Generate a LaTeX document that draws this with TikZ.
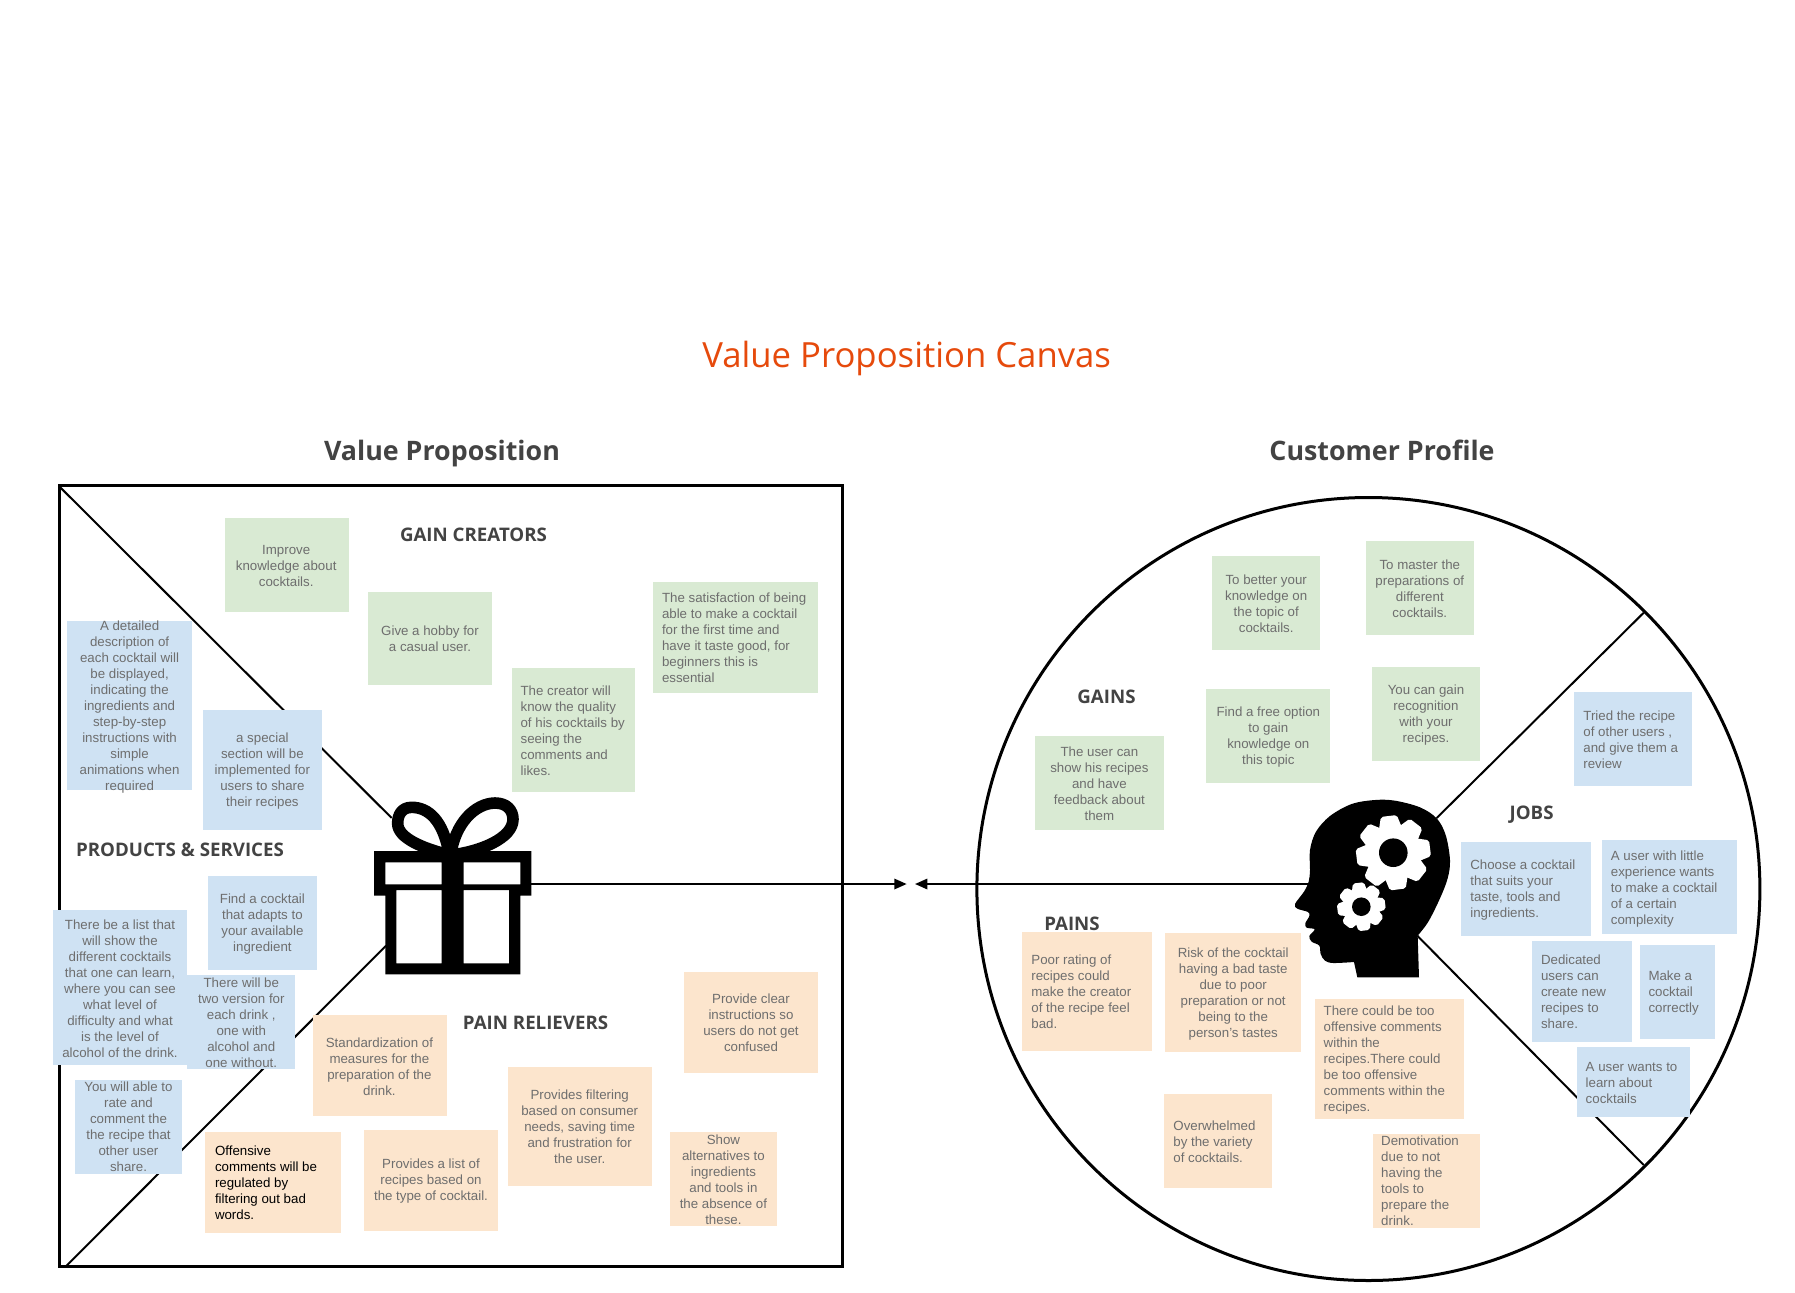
\documentclass[tikz,border=0pt]{standalone}
\usepackage{fontspec}
\setmainfont{Liberation Sans}
\newfontfamily\opensans{Open Sans}
\usetikzlibrary{arrows.meta}
\definecolor{gnote}{HTML}{D9EAD3}
\definecolor{bnote}{HTML}{CFE2F3}
\definecolor{onote}{HTML}{FCE5CD}
\definecolor{notetext}{HTML}{6E6E6E}
\definecolor{headtext}{HTML}{434343}
\definecolor{titleorange}{HTML}{E64A0C}
\tikzset{
  notebox/.style={inner sep=0pt,outer sep=0pt},
  ntext/.style={inner sep=0pt,outer sep=0pt,text=notetext,font=\fontsize{6.65}{8}\selectfont},
  cnote/.style={ntext,align=center,anchor=center},
  lnote/.style={ntext,align=left,anchor=west},
  sect/.style={inner sep=0pt,text=headtext,font=\opensans\bfseries\fontsize{9.35}{11}\selectfont},
  panel/.style={inner sep=0pt,anchor=base,text=headtext,font=\opensans\bfseries\fontsize{13.4}{15}\selectfont},
  divider/.style={line width=1pt,black},
  outline/.style={line width=1.5pt,black},
  link/.style={line width=1pt,black,-{Triangle[length=6.2pt,width=5.2pt]}}
}
% name, x1,y1,x2,y2, colour
\newcommand{\stickynote}[6]{%
  \path[fill=#6] (#2,#3) rectangle (#4,#5);
  \node[notebox,minimum width=0pt] (#1) at ({(#2+#4)/2},{(#3+#5)/2}) {};
}
\newcommand{\cardc}[9]{\stickynote{#1}{#2}{#3}{#4}{#5}{#6}\node[cnote] (#1t) at (#7,#8) {#9};}
\newcommand{\cardl}[9]{\stickynote{#1}{#2}{#3}{#4}{#5}{#6}\node[lnote] (#1t) at (#7,#8) {#9};}
\newcommand{\gearshape}[6]{% cx cy outer root hole toothhalf
  \begin{scope}[shift={(#1,#2)}]
    \fill[white] (0,0) circle (#4);
    \foreach \a in {7,52,...,322}
      \fill[white,rotate=\a,rounded corners=1pt] (-#6*1.2,-#4+6) -- (-#6*.8,-#3) -- (#6*.8,-#3) -- (#6*1.2,-#4+6) -- cycle;
    \fill[black] (0,0) circle (#5);
  \end{scope}
}
\begin{document}
\begin{tikzpicture}[x=0.5pt,y=-0.5pt]
\useasboundingbox (0,0) rectangle (1795,1292);
\fill[white] (0,0) rectangle (1795,1292);

% anchors
\coordinate (boxTL) at (60.6,487.7);
\coordinate (boxBL) at (66.2,1266);
\coordinate (giftNW) at (391.7,818);
\coordinate (giftSW) at (386,945.7);
\coordinate (giftE) at (531,884);
\coordinate (tipL) at (906.7,884);
\coordinate (tipR) at (915,884);
\coordinate (headW) at (1308,884);
\coordinate (headNE) at (1436.7,818);
\coordinate (headSE) at (1417.3,935.7);
\coordinate (rimNE) at (1643.7,612.7);
\coordinate (rimSE) at (1643.7,1165);

% frames
\draw[outline] (59,485.7) rectangle (842,1266.7);
\draw[outline] (1368.4,889) circle (391.5);
\draw[divider] (boxTL) -- (giftNW);
\draw[divider] (boxBL) -- (giftSW);
\draw[divider] (headNE) -- (rimNE);
\draw[divider] (headSE) -- (rimSE);
\draw[link] (giftE) -- (tipL);
\draw[link] (headW) -- (tipR);

% gift
\begin{scope}[shift={(360,780)},scale=1/3]
  \draw[line width=5.8pt,black,line join=round]
    (268,225) .. controls (250,120) and (205,82) .. (155,82)
    .. controls (125,82) and (113,105) .. (113,130)
    .. controls (113,175) and (190,205) .. (268,225);
  \draw[line width=5.8pt,black,line join=round]
    (272,225) .. controls (285,130) and (345,70) .. (405,69)
    .. controls (440,69) and (459,90) .. (459,118)
    .. controls (459,175) and (360,215) .. (272,225);
  \fill[black,even odd rule]
    (42,213) -- (514,213) -- (514,347) -- (481,347) -- (481,583) -- (76,583) -- (76,347) -- (42,347) -- cycle
    (76,247) rectangle (245,313)
    (311,247) rectangle (481,313)
    (109,330) rectangle (245,550)
    (311,330) rectangle (447,550);
\end{scope}

% head
\begin{scope}[shift={(1280,780)},scale=1/3]
  \fill[black] (417,592) -- plot[smooth,tension=.55] coordinates {
    (413,467) (445,425) (480,355) (503,295) (510,240) (497,165) (470,115)
    (420,82) (345,62) (285,60) (215,72) (150,108) (108,155) (90,210) (90,270)
    (86,305) (72,335) (45,372) (52,386) (84,396) (88,408) (76,430) (80,443)
    (104,448) (88,468) (95,485) (118,497) (122,522) (135,542) (160,549) (222,546)
  } -- (232,592) -- cycle;
\end{scope}
\gearshape{1393.3}{852.7}{37}{28.5}{14.3}{10}
\gearshape{1361.3}{906.7}{24}{18}{9.3}{7}

% headings
\node[inner sep=0pt,anchor=base,text=titleorange,font=\opensans\fontsize{17.35}{20}\selectfont] (title) at (906.7,367.7) {Value Proposition Canvas};
\node[panel] (vp) at (442,460.7) {Value Proposition};
\node[panel] (cp) at (1382,460.7) {Customer Profile};

% Gain creators
\cardc{improve}{224.5}{518}{348.5}{611.7}{gnote}{286.2}{566}{Improve\\knowledge about\\cocktails.}
\cardc{hobby}{368}{591.7}{492}{685.3}{gnote}{430}{639}{Give a hobby for\\a casual user.}
\cardl{satisf}{653}{582.3}{818}{693}{gnote}{662}{637.8}{The satisfaction of being\\able to make a cocktail\\for the first time and\\have it taste good, for\\beginners this is\\essential}
\cardl{creator}{512}{668.3}{635}{791.7}{gnote}{520.6}{730.7}{The creator will\\know the quality\\of his cocktails by\\seeing the\\comments and\\likes.}

% Products
\cardc{detailed}{67}{621}{192}{790}{bnote}{129.6}{707.3}{A detailed\\description of\\each cocktail will\\be displayed,\\indicating the\\ingredients and\\step-by-step\\instructions with\\simple\\animations when\\required}
\cardc{special}{203}{710.3}{321.6}{829.7}{bnote}{262.4}{771.2}{a special\\section will be\\implemented for\\users to share\\their recipes}
\cardc{adapt}{208}{876}{316.5}{970}{bnote}{262.4}{924.3}{Find a cocktail\\that adapts to\\your available\\ingredient}
\cardc{thelist}{52.8}{910.3}{187.4}{1065.3}{bnote}{120}{988.3}{There be a list that\\will show the\\different cocktails\\that one can learn,\\where you can see\\what level of\\difficulty and what\\is the level of\\alcohol of the drink.}
\cardc{twover}{187.4}{975}{295}{1069.3}{bnote}{241.3}{1022.7}{There will be\\two version for\\each drink ,\\one with\\alcohol and\\one without.}
\cardc{rate}{74.6}{1079.7}{182.4}{1173.7}{bnote}{128.5}{1127}{You will able to\\rate and\\comment the\\the recipe that\\other user\\share.}

% Pain relievers
\cardc{standard}{312.6}{1015}{446.7}{1116}{onote}{379.4}{1066.3}{Standardization of\\measures for the\\preparation of the\\drink.}
\cardc{clear}{683.5}{972}{818}{1072.7}{onote}{751}{1022.7}{Provide clear\\instructions so\\users do not get\\confused}
\cardc{filter}{508}{1067}{651.5}{1186}{onote}{579.7}{1127}{Provides filtering\\based on consumer\\needs, saving time\\and frustration for\\the user.}
\cardl{offens}{205.4}{1132}{340.6}{1232.7}{onote}{215}{1183}{\textcolor{black}{Offensive}\\\textcolor{black}{comments will be}\\\textcolor{black}{regulated by}\\\textcolor{black}{filtering out bad}\\\textcolor{black}{words.}}
\cardc{listtype}{364}{1130}{498.3}{1230.7}{onote}{431}{1181.5}{Provides a list of\\recipes based on\\the type of cocktail.}
\cardc{alter}{669.5}{1132}{777.3}{1226}{onote}{723.4}{1179.3}{Show\\alternatives to\\ingredients\\and tools in\\the absence of\\these.}

% Gains
\cardc{better}{1211.9}{556}{1320}{650}{gnote}{1266.2}{603.7}{To better your\\knowledge on\\the topic of\\cocktails.}
\cardc{master}{1365.8}{541}{1473.9}{635}{gnote}{1419.8}{588.7}{To master the\\preparations of\\different\\cocktails.}
\cardc{free}{1206}{689}{1330}{782.7}{gnote}{1268.3}{737}{Find a free option\\to gain\\knowledge on\\this topic}
\cardc{recog}{1372.2}{667}{1479.7}{761}{gnote}{1426}{715}{You can gain\\recognition\\with your\\recipes.}
\cardc{show}{1034.6}{736}{1164}{829.7}{gnote}{1099.4}{783.7}{The user can\\show his recipes\\and have\\feedback about\\them}

% Jobs
\cardl{tried}{1574}{692}{1692.2}{786}{bnote}{1583.4}{739.7}{Tried the recipe\\of other users ,\\and give them a\\review}
\cardl{choose}{1461}{841.7}{1590.5}{935.7}{bnote}{1470.3}{890.3}{Choose a cocktail\\that suits your\\taste, tools and\\ingredients.}
\cardl{little}{1602.2}{840.3}{1737}{934}{bnote}{1610.9}{889}{A user with little\\experience wants\\to make a cocktail\\of a certain\\complexity}
\cardl{dedic}{1532}{941}{1632}{1042}{bnote}{1541}{992}{Dedicated\\users can\\create new\\recipes to\\share.}
\cardl{make}{1639.5}{944.7}{1715}{1038.7}{bnote}{1648.5}{993}{Make a\\cocktail\\correctly}
\cardl{learn}{1576.6}{1047.3}{1690}{1117.3}{bnote}{1585.7}{1082.7}{A user wants to\\learn about\\cocktails}

% Pains
\cardl{poor}{1021.8}{932}{1151.7}{1051}{onote}{1031.4}{992}{Poor rating of\\recipes could\\make the creator\\of the recipe feel\\bad.}
\cardc{risk}{1164.5}{933}{1301.3}{1051.7}{onote}{1233.2}{994}{Risk of the cocktail\\having a bad taste\\due to poor\\preparation or not\\being to the\\person's tastes}
\cardl{offcom}{1314.6}{999.3}{1463.7}{1118.7}{onote}{1323.7}{1060.4}{There could be too\\offensive comments\\within the\\recipes.There could\\be too offensive\\comments within the\\recipes.}
\cardl{over}{1164}{1094}{1272}{1188}{onote}{1173.4}{1141.3}{Overwhelmed\\by the variety\\of cocktails.}
\cardl{demot}{1372.7}{1134}{1479.7}{1227.7}{onote}{1381.2}{1180.8}{Demotivation\\due to not\\having the\\tools to\\prepare the\\drink.}

% section labels
\node[sect] (gc) at (473.5,535) {GAIN CREATORS};
\node[sect] (ps) at (180,850) {PRODUCTS \& SERVICES};
\node[sect] (pr) at (535.6,1022.7) {PAIN RELIEVERS};
\node[sect] (gains) at (1106.5,696.7) {GAINS};
\node[sect] (jobs) at (1531.6,815) {JOBS};
\node[sect] (pains) at (1072,923.5) {PAINS};
\end{tikzpicture}
\end{document}
